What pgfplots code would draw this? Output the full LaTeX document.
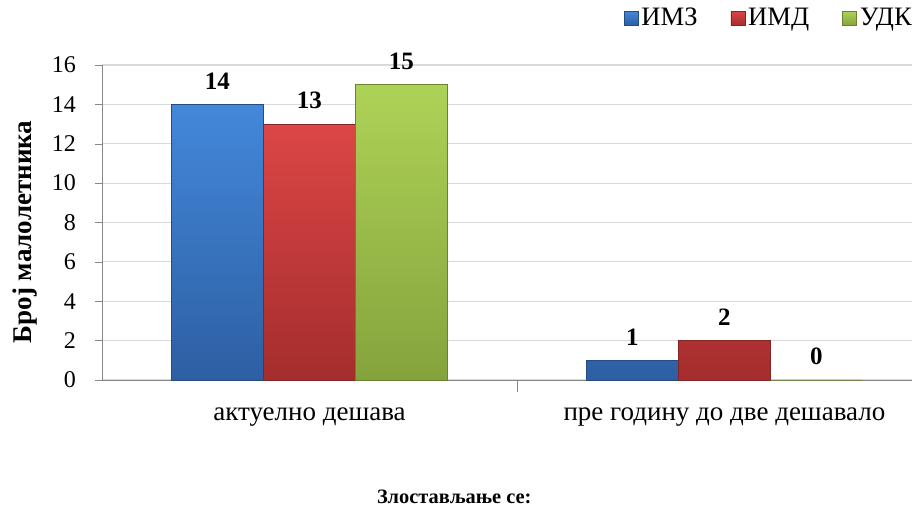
\documentclass[border=0pt]{standalone}
\usepackage{pgfplots}
\pgfplotsset{compat=1.18}
\usepackage{fontspec}
\setmainfont{Liberation Serif}
\definecolor{gridc}{HTML}{D9D9D9}
\definecolor{axc}{HTML}{888888}
\definecolor{bluet}{HTML}{4388DA}
\definecolor{blueb}{HTML}{2D5FA3}
\definecolor{redt}{HTML}{DC4646}
\definecolor{redb}{HTML}{A52D2D}
\definecolor{greent}{HTML}{AED257}
\definecolor{greenb}{HTML}{85A33C}
\begin{document}
\begin{tikzpicture}
\useasboundingbox (0,0) rectangle (456pt,253.5pt);
\begin{axis}[
  at={(51pt,63.5pt)}, anchor=south west,
  scale only axis, width=405pt, height=157.5pt,
  ybar=0pt, bar width=46pt,
  xmin=-0.5, xmax=1.452, ymin=0, ymax=16,
  ytick={0,2,...,16},
  xtick={0,1},
  xticklabels={актуелно дешава, пре годину до две дешавало},
  minor xtick={0.5},
  major x tick style={draw=none},
  minor x tick style={draw=axc},
  minor tick length=6pt,
  major tick length=3.5pt,
  tick align=outside,
  y tick style={draw=axc},
  axis x line*=bottom, axis y line*=left,
  axis line style={draw=axc, -},
  ymajorgrids, grid style={gridc, line width=0.6pt},
  /pgf/number format/assume math mode=true,
  yticklabel style={font=\fontsize{12}{14}\selectfont, xshift=-6pt},
  xticklabel style={font=\fontsize{13.5}{15}\selectfont, yshift=-7pt},
  ylabel={\textbf{Број малолетника}},
  ylabel style={at={(axis description cs:-0.095,0.47)}, anchor=center, font=\fontsize{13.5}{15}\selectfont},
  xlabel={\textbf{Злостављање се:}},
  xlabel style={at={(axis description cs:0.435,-0.371)}, anchor=center, font=\fontsize{10.2}{12}\selectfont},
  nodes near coords,
  every node near coord/.append style={font=\bfseries\fontsize{12.5}{14}\selectfont, yshift=4pt, black},
  legend columns=3,
  legend style={at={(axis description cs:1.004,1.149)}, anchor=east, draw=none, fill=none,
    font=\fontsize{13.3}{15}\selectfont, inner xsep=0pt,
    nodes={inner xsep=1.5pt},
    /tikz/every even column/.append style={column sep=15pt}},
  legend image code/.code={\path[#1] (0pt,-3.5pt) rectangle (7pt,3.5pt);},
  clip=false,
]
\addplot[draw=blueb!80!black, line width=0.3pt, top color=bluet, bottom color=blueb] coordinates {(0,14) (1,1)};
\addplot[draw=redb!80!black, line width=0.3pt, top color=redt, bottom color=redb] coordinates {(0,13) (1,2)};
\addplot[draw=greenb!80!black, line width=0.3pt, top color=greent, bottom color=greenb] coordinates {(0,15) (1,0)};
\legend{ИМЗ, ИМД, УДК}
\end{axis}
\end{tikzpicture}
\end{document}
